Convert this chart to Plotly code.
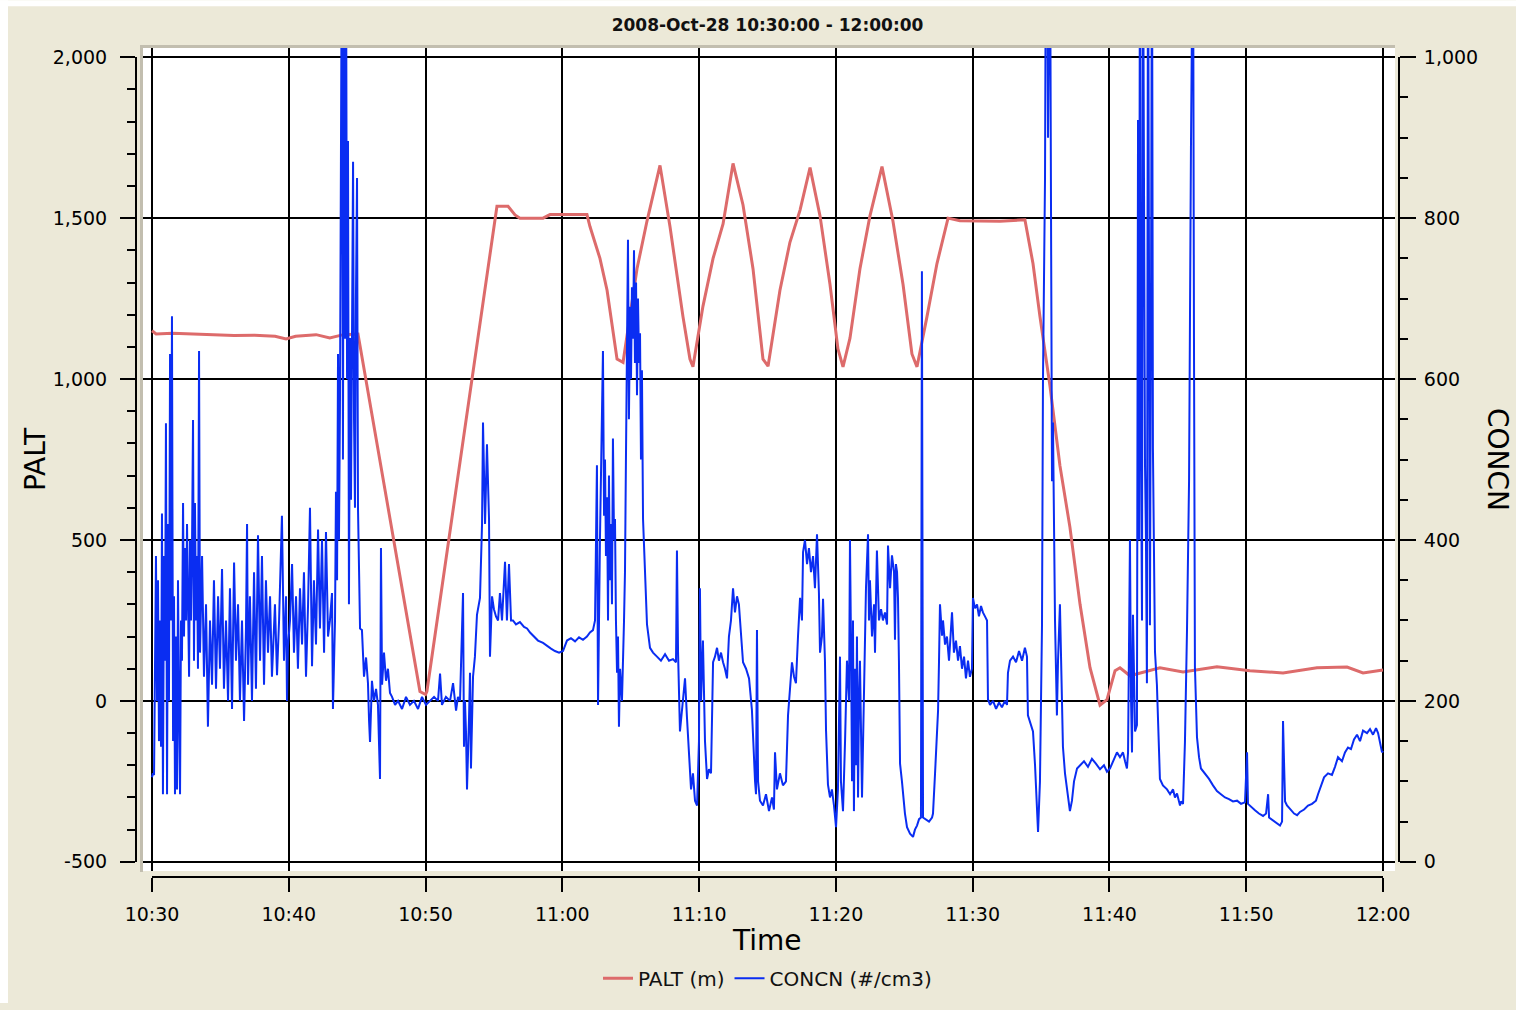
import pandas as pd
import plotly.graph_objects as go

START = "2008-10-28 10:30:00"
END = "2008-10-28 12:00:00"
TITLE = "2008-Oct-28 10:30:00 - 12:00:00"

# ---- PALT (m): minutes after 10:30 and altitude ----
palt_min = [0.00, 0.30, 1.50, 3.00, 4.50, 6.00, 7.50, 9.00, 9.80, 10.50,
            12.00, 13.00, 14.00, 15.06, 19.59, 20.00, 20.10, 25.22, 26.03, 26.54,
            26.90, 28.59, 29.10, 31.80, 32.02, 32.75, 33.27, 34.00, 34.44, 34.95,
            35.46, 36.19, 37.14, 37.87, 38.82, 39.33, 39.55, 40.28, 41.02, 41.75,
            42.48, 43.21, 43.94, 44.67, 45.04, 45.91, 46.64, 47.38, 48.11, 48.84,
            49.57, 50.15, 50.52, 51.03, 51.76, 52.49, 53.37, 54.17, 54.91, 55.56,
            55.93, 56.66, 57.39, 58.20, 59.07, 62.00, 63.82, 64.41, 64.92, 65.65,
            66.38, 67.11, 67.85, 68.58, 69.31, 69.82, 70.41, 70.77, 71.50, 73.69,
            75.38, 77.86, 80.27, 82.69, 85.17, 87.37, 88.54, 90.00]
palt_m = [1150, 1140, 1142, 1140, 1138, 1135, 1136, 1133, 1125, 1133,
          1138, 1128, 1138, 1140, 29, 20, 30, 1537, 1537, 1510,
          1500, 1500, 1511, 1511, 1474, 1375, 1276, 1062, 1052, 1194,
          1343, 1491, 1664, 1474, 1194, 1062, 1038, 1226, 1375, 1482,
          1670, 1541, 1343, 1062, 1040, 1276, 1425, 1525, 1657, 1507,
          1294, 1094, 1038, 1127, 1343, 1507, 1660, 1491, 1294, 1078,
          1038, 1194, 1359, 1500, 1492, 1490, 1495, 1359, 1194, 979,
          731, 540, 300, 103, -13, 4, 94, 103, 78, 103,
          90, 106, 94, 87, 103, 105, 87, 96]

# ---- CONCN (#/cm3): minutes after 10:30 and concentration ----
concn_min = [
    0.00, 0.07, 0.15, 0.22, 0.29, 0.37, 0.44, 0.51, 0.58, 0.66,
    0.73, 0.80, 0.88, 0.95, 1.02, 1.10, 1.17, 1.24, 1.32, 1.39,
    1.46, 1.54, 1.61, 1.68, 1.75, 1.83, 1.90, 1.97, 2.05, 2.12,
    2.19, 2.27, 2.34, 2.41, 2.49, 2.56, 2.63, 2.71, 2.78, 2.85,
    2.92, 3.00, 3.07, 3.14, 3.22, 3.29, 3.36, 3.44, 3.51, 3.66,
    3.80, 3.95, 4.09, 4.24, 4.39, 4.53, 4.68, 4.83, 4.97, 5.12,
    5.26, 5.41, 5.56, 5.70, 5.85, 6.00, 6.14, 6.29, 6.43, 6.58,
    6.73, 6.87, 6.95, 7.02, 7.16, 7.31, 7.46, 7.60, 7.75, 7.90,
    8.04, 8.19, 8.33, 8.48, 8.63, 8.77, 8.99, 9.14, 9.29, 9.50,
    9.65, 9.80, 9.87, 9.94, 10.09, 10.24, 10.38, 10.53, 10.67, 10.82,
    10.97, 11.11, 11.26, 11.41, 11.55, 11.70, 11.84, 11.99, 12.14, 12.28,
    12.43, 12.58, 12.72, 12.87, 13.01, 13.16, 13.23, 13.38, 13.45, 13.53,
    13.60, 13.67, 13.74, 13.82, 13.89, 13.96, 14.04, 14.11, 14.18, 14.26,
    14.33, 14.40, 14.48, 14.55, 14.62, 14.70, 14.77, 14.84, 14.91, 14.99,
    15.06, 15.13, 15.21, 15.35, 15.50, 15.65, 15.79, 15.87, 15.94, 16.08,
    16.23, 16.38, 16.52, 16.67, 16.74, 16.82, 16.96, 17.11, 17.25, 17.40,
    17.55, 17.77, 17.99, 18.28, 18.57, 18.86, 19.15, 19.45, 19.74, 20.03,
    20.32, 20.62, 20.91, 21.06, 21.20, 21.49, 21.79, 22.01, 22.23, 22.37,
    22.52, 22.74, 22.81, 22.88, 22.96, 23.03, 23.18, 23.25, 23.32, 23.47,
    23.61, 23.76, 23.98, 24.13, 24.20, 24.35, 24.49, 24.64, 24.71, 24.86,
    25.00, 25.15, 25.30, 25.44, 25.59, 25.81, 25.95, 26.10, 26.25, 26.39,
    26.61, 26.90, 27.20, 27.42, 27.64, 27.93, 28.22, 28.59, 28.88, 29.17,
    29.46, 29.76, 30.05, 30.34, 30.63, 30.93, 31.22, 31.51, 31.80, 32.02,
    32.24, 32.39, 32.53, 32.61, 32.75, 32.90, 32.97, 33.05, 33.12, 33.19,
    33.27, 33.34, 33.41, 33.48, 33.56, 33.63, 33.70, 33.78, 33.85, 33.92,
    34.00, 34.07, 34.14, 34.22, 34.36, 34.51, 34.58, 34.65, 34.73, 34.80,
    34.87, 34.95, 35.02, 35.09, 35.17, 35.24, 35.31, 35.39, 35.46, 35.53,
    35.61, 35.68, 35.75, 35.82, 35.90, 36.04, 36.19, 36.41, 36.63, 36.92,
    37.21, 37.51, 37.80, 38.09, 38.31, 38.38, 38.46, 38.60, 38.82, 38.97,
    39.11, 39.26, 39.41, 39.55, 39.70, 39.85, 39.99, 40.06, 40.14, 40.28,
    40.43, 40.58, 40.72, 40.87, 41.02, 41.16, 41.31, 41.45, 41.60, 41.75,
    41.89, 42.04, 42.18, 42.33, 42.48, 42.62, 42.77, 42.91, 43.06, 43.21,
    43.43, 43.65, 43.86, 44.01, 44.09, 44.16, 44.23, 44.31, 44.45, 44.67,
    44.89, 45.11, 45.33, 45.47, 45.55, 45.69, 45.91, 46.13, 46.35, 46.50,
    46.64, 46.79, 46.94, 47.08, 47.23, 47.38, 47.52, 47.60, 47.74, 47.89,
    48.03, 48.18, 48.33, 48.47, 48.62, 48.76, 48.84, 48.98, 49.06, 49.20,
    49.28, 49.42, 49.57, 49.71, 49.86, 50.01, 50.15, 50.30, 50.37, 50.52,
    50.67, 50.81, 50.96, 51.03, 51.11, 51.18, 51.25, 51.32, 51.40, 51.47,
    51.54, 51.62, 51.69, 51.76, 51.91, 52.05, 52.13, 52.20, 52.35, 52.42,
    52.49, 52.64, 52.79, 52.86, 53.00, 53.15, 53.30, 53.44, 53.59, 53.74,
    53.81, 53.96, 54.10, 54.25, 54.32, 54.39, 54.47, 54.54, 54.61, 54.69,
    54.83, 54.91, 55.05, 55.20, 55.42, 55.64, 55.78, 55.93, 56.08, 56.22,
    56.29, 56.37, 56.59, 56.81, 57.03, 57.10, 57.25, 57.39, 57.47, 57.54,
    57.61, 57.76, 57.83, 57.98, 58.12, 58.27, 58.42, 58.49, 58.63, 58.78,
    58.93, 59.07, 59.22, 59.37, 59.51, 59.66, 59.80, 59.95, 60.02, 60.17,
    60.32, 60.46, 60.61, 60.75, 60.90, 61.05, 61.12, 61.27, 61.49, 61.71,
    61.93, 62.14, 62.36, 62.51, 62.58, 62.73, 62.95, 63.17, 63.39, 63.61,
    63.82, 63.97, 64.04, 64.26, 64.41, 64.56, 64.70, 64.78, 64.92, 65.07,
    65.14, 65.22, 65.29, 65.36, 65.43, 65.51, 65.58, 65.65, 65.73, 65.80,
    65.87, 66.02, 66.16, 66.24, 66.38, 66.53, 66.60, 66.75, 66.89, 67.11,
    67.26, 67.41, 67.63, 67.85, 68.14, 68.43, 68.72, 69.01, 69.31, 69.60,
    69.82, 70.04, 70.26, 70.55, 70.77, 70.99, 71.14, 71.28, 71.36, 71.50,
    71.58, 71.65, 71.72, 71.87, 72.01, 72.09, 72.16, 72.23, 72.31, 72.38,
    72.45, 72.53, 72.60, 72.67, 72.74, 72.82, 72.89, 72.96, 73.04, 73.11,
    73.18, 73.26, 73.33, 73.47, 73.55, 73.69, 73.91, 74.21, 74.43, 74.65,
    74.79, 74.94, 75.16, 75.23, 75.38, 75.52, 75.67, 75.82, 75.96, 76.11,
    76.18, 76.25, 76.40, 76.55, 76.69, 76.98, 77.28, 77.57, 77.86, 78.15,
    78.45, 78.74, 79.03, 79.33, 79.62, 79.91, 80.06, 80.13, 80.35, 80.64,
    80.93, 81.23, 81.45, 81.60, 81.67, 81.89, 82.18, 82.47, 82.62, 82.69,
    82.77, 82.84, 82.98, 83.20, 83.50, 83.72, 83.93, 84.23, 84.52, 84.81,
    85.10, 85.25, 85.47, 85.69, 85.98, 86.27, 86.49, 86.71, 87.00, 87.22,
    87.44, 87.66, 87.88, 88.10, 88.32, 88.54, 88.83, 89.05, 89.27, 89.49,
    89.64, 89.78, 89.93, 90.00]
concn_val = [
    105, 110, 108, 300, 380, 200, 350, 150, 300, 143,
    433, 84, 380, 250, 545, 84, 420, 200, 631, 300,
    678, 150, 330, 84, 280, 90, 350, 200, 84, 300,
    250, 446, 280, 390, 300, 420, 350, 230, 400, 300,
    380, 549, 250, 446, 300, 380, 240, 635, 260, 380,
    230, 320, 168, 300, 220, 350, 215, 330, 240, 364,
    215, 300, 200, 340, 190, 372, 250, 320, 200, 300,
    175, 290, 420, 220, 330, 200, 360, 215, 406, 250,
    380, 220, 350, 260, 330, 230, 320, 232, 300, 430,
    250, 330, 200, 268, 300, 370, 260, 330, 240, 340,
    270, 360, 230, 320, 440, 243, 350, 270, 413, 290,
    400, 260, 410, 280, 300, 334, 190, 300, 460, 350,
    631, 400, 560, 750, 1200, 500, 1200, 650, 1200, 600,
    896, 320, 651, 450, 700, 870, 550, 440, 700, 850,
    440, 350, 290, 288, 230, 254, 222, 175, 149, 225,
    200, 215, 195, 103, 390, 220, 260, 225, 240, 210,
    205, 195, 200, 190, 205, 195, 200, 190, 205, 195,
    200, 205, 200, 234, 195, 205, 200, 222, 188, 205,
    200, 334, 143, 200, 160, 90, 180, 235, 116, 230,
    255, 307, 328, 420, 546, 420, 519, 426, 255, 330,
    314, 305, 300, 334, 300, 373, 300, 370, 300, 300,
    295, 298, 292, 290, 285, 280, 275, 272, 268, 265,
    262, 260, 262, 275, 278, 274, 279, 276, 280, 285,
    288, 300, 493, 195, 400, 572, 635, 430, 500, 380,
    453, 300, 480, 350, 420, 320, 526, 400, 426, 300,
    235, 280, 168, 240, 200, 300, 360, 500, 650, 773,
    550, 690, 600, 714, 650, 760, 620, 720, 580, 700,
    620, 657, 500, 611, 426, 350, 295, 266, 260, 255,
    250, 258, 250, 252, 248, 387, 260, 162, 200, 228,
    180, 125, 90, 110, 76, 70, 150, 340, 200, 275,
    150, 103, 115, 110, 248, 255, 266, 250, 260, 248,
    240, 228, 280, 300, 340, 310, 330, 320, 280, 248,
    240, 228, 189, 116, 100, 84, 288, 100, 76, 70,
    84, 63, 80, 65, 136, 90, 110, 95, 100, 182,
    220, 248, 230, 222, 280, 328, 300, 385, 400, 370,
    390, 360, 380, 340, 407, 334, 260, 280, 327, 250,
    163, 96, 80, 90, 70, 43, 90, 255, 100, 63,
    150, 250, 200, 400, 262, 100, 300, 63, 240, 120,
    280, 80, 200, 250, 80, 200, 265, 340, 407, 300,
    350, 280, 320, 260, 387, 300, 314, 300, 310, 295,
    393, 340, 381, 360, 276, 370, 360, 328, 250, 122,
    100, 83, 60, 43, 35, 31, 40, 45, 53, 55,
    734, 55, 52, 50, 55, 60, 110, 160, 188, 250,
    320, 281, 300, 270, 280, 250, 295, 310, 260, 275,
    250, 268, 240, 255, 228, 250, 230, 240, 328, 315,
    320, 305, 318, 310, 305, 300, 202, 195, 200, 190,
    198, 192, 200, 195, 235, 250, 255, 248, 262, 250,
    266, 255, 182, 170, 162, 120, 70, 37, 100, 295,
    598, 700, 850, 1200, 1200, 900, 1200, 1200, 800, 473,
    546, 300, 182, 250, 320, 200, 143, 110, 90, 63,
    76, 100, 116, 120, 125, 118, 128, 122, 115, 120,
    112, 116, 125, 136, 130, 136, 125, 116, 136, 400,
    200, 136, 307, 162, 170, 922, 400, 1200, 500, 300,
    1200, 700, 493, 400, 222, 1200, 500, 294, 700, 1200,
    512, 400, 261, 220, 175, 103, 95, 90, 84, 90,
    80, 85, 70, 75, 72, 149, 288, 473, 889, 1200,
    651, 242, 155, 130, 116, 110, 103, 95, 88, 84,
    80, 78, 75, 76, 72, 74, 136, 72, 68, 64,
    60, 57, 60, 84, 55, 52, 48, 45, 50, 175,
    120, 75, 70, 66, 60, 58, 62, 65, 70, 72,
    76, 84, 95, 105, 110, 108, 118, 130, 125, 136,
    142, 140, 152, 158, 150, 163, 160, 165, 158, 166,
    160, 150, 136, 138]

palt_ticks = [-500, 0, 500, 1000, 1500, 2000]
palt_tick_text = ["-500", "0", "500", "1,000", "1,500", "2,000"]
concn_ticks = [0, 200, 400, 600, 800, 1000]
concn_tick_text = ["0", "200", "400", "600", "800", "1,000"]

# ---------------------------------------------------------------------------
t0 = pd.Timestamp(START)
t1 = pd.Timestamp(END)
palt_time = [t0 + pd.Timedelta(minutes=m) for m in palt_min]
concn_time = [t0 + pd.Timedelta(minutes=m) for m in concn_min]

W, H = 1516, 1010
ML, MR, MT, MB = 136, 117, 48, 127
PW, PH = W - ML - MR, H - MT - MB


def fx(p):  # pixel x -> paper fraction
    return (p - ML) / PW


def fy(p):  # pixel y -> paper fraction
    return (H - MB - p) / PH


BEIGE = "#ECE9D8"
RED = "#DD6B6B"
BLUE = "#0A2DF2"
FONT = "DejaVu Sans"

fig = go.Figure()
fig.add_trace(go.Scatter(x=palt_time, y=palt_m, name="PALT (m)", mode="lines",
                         line=dict(color=RED, width=3), xaxis="x", yaxis="y"))
fig.add_trace(go.Scatter(x=concn_time, y=concn_val, name="CONCN (#/cm3)", mode="lines",
                         line=dict(color=BLUE, width=2), xaxis="x", yaxis="y2"))
# empty helper traces so that the outer tick axes get drawn
fig.add_trace(go.Scatter(x=[], y=[], xaxis="x2", yaxis="y3", showlegend=False, hoverinfo="skip"))
fig.add_trace(go.Scatter(x=[], y=[], xaxis="x2", yaxis="y4", showlegend=False, hoverinfo="skip"))

# pixel-based range padding of the white plotting area
sec_per_px = 5400 / 1231
pad_l = pd.Timedelta(seconds=9 * sec_per_px)
pad_r = pd.Timedelta(seconds=12 * sec_per_px)
u_per_px = 2500 / 810.4
u2_per_px = 1000 / 810.4

tick_font = dict(family=FONT, size=19, color="#000")
axis_common = dict(showline=True, linecolor="#000", linewidth=2, ticks="outside",
                   tickwidth=2, tickcolor="#000", showgrid=False, zeroline=False,
                   tickfont=tick_font)

fig.update_layout(
    width=W, height=H,
    margin=dict(l=ML, r=MR, t=MT, b=MB, pad=0),
    paper_bgcolor=BEIGE,
    plot_bgcolor="rgba(0,0,0,0)",
    font=dict(family=FONT, color="#000"),
    title=dict(text="<b>" + TITLE + "</b>", x=0.5, xref="paper", xanchor="center",
               y=1 - 25 / H, yref="container", yanchor="middle",
               font=dict(family=FONT, size=17, color="#111")),
    showlegend=True,
    legend=dict(orientation="h", x=0.5, xanchor="center", y=fy(985), yanchor="middle",
                bgcolor="rgba(0,0,0,0)", font=dict(family=FONT, size=20, color="#111"),
                itemwidth=30, traceorder="normal"),
    xaxis=dict(domain=[fx(143), fx(1395)], type="date",
               range=[t0 - pad_l, t1 + pad_r], tick0=t0, dtick=600000,
               showgrid=True, gridcolor="#000", gridwidth=2,
               showticklabels=False, ticks="", zeroline=False, showline=False,
               anchor="y"),
    yaxis=dict(domain=[fy(877), 1.0],
               range=[-500 - 9.3 * u_per_px, 2000 + 9.3 * u_per_px],
               tickvals=palt_ticks, showgrid=True, gridcolor="#000", gridwidth=2,
               showticklabels=False, ticks="", zeroline=False, showline=False,
               anchor="x"),
    yaxis2=dict(overlaying="y", anchor="x",
                range=[0 - 9.3 * u2_per_px, 1000 + 9.3 * u2_per_px],
                visible=False),
    xaxis2=dict(domain=[fx(152), fx(1383)], type="date", range=[t0, t1],
                anchor="free", position=0, tick0=t0, dtick=600000,
                tickformat="%H:%M", ticklen=14, ticklabelstandoff=6, **axis_common),
    yaxis3=dict(domain=[fy(867.7), fy(57.3)], range=[-500, 2000],
                anchor="free", position=0, side="left", tickvals=palt_ticks,
                ticktext=palt_tick_text, ticklen=15, ticklabelstandoff=9,
                minor=dict(dtick=100, tick0=0, ticks="outside", ticklen=8,
                           tickwidth=2, tickcolor="#000", showgrid=False),
                **axis_common),
    yaxis4=dict(domain=[fy(867.7), fy(57.3)], range=[0, 1000],
                anchor="free", position=1, side="right", overlaying="y3",
                tickvals=concn_ticks, ticktext=concn_tick_text, ticklen=16,
                ticklabelstandoff=4,
                minor=dict(dtick=50, tick0=0, ticks="outside", ticklen=8,
                           tickwidth=2, tickcolor="#000", showgrid=False),
                **axis_common),
)

shapes = [
    # white plotting area
    dict(type="rect", xref="paper", yref="paper", x0=fx(143), x1=fx(1395),
         y0=fy(877), y1=fy(48), fillcolor="#FFFFFF", line=dict(width=0), layer="below"),
    # sunken border (left & top)
    dict(type="line", xref="paper", yref="paper", x0=fx(141.5), x1=fx(141.5),
         y0=fy(46), y1=fy(878), line=dict(color="#C2BEAF", width=3), layer="below"),
    dict(type="line", xref="paper", yref="paper", x0=fx(140), x1=fx(1395),
         y0=fy(46.5), y1=fy(46.5), line=dict(color="#C2BEAF", width=3), layer="below"),
    # thin white frame at the top and left edges of the picture
    dict(type="rect", xref="paper", yref="paper", x0=fx(0), x1=fx(W),
         y0=fy(0), y1=fy(6), fillcolor="#FFFFFF", line=dict(width=0), layer="below"),
    dict(type="rect", xref="paper", yref="paper", x0=fx(0), x1=fx(8),
         y0=fy(0), y1=fy(H), fillcolor="#FFFFFF", line=dict(width=0), layer="below"),
]
fig.update_layout(shapes=shapes)

fig.update_layout(annotations=[
    dict(text="Time", xref="paper", yref="paper", x=fx(767), y=fy(947),
         xanchor="center", yanchor="middle", showarrow=False,
         font=dict(family=FONT, size=28, color="#000")),
    dict(text="PALT", xref="paper", yref="paper", x=fx(35), y=fy(462),
         xanchor="center", yanchor="middle", showarrow=False, textangle=-90,
         font=dict(family=FONT, size=28, color="#000")),
    dict(text="CONCN", xref="paper", yref="paper", x=fx(1498), y=fy(462),
         xanchor="center", yanchor="middle", showarrow=False, textangle=90,
         font=dict(family=FONT, size=28, color="#000")),
])

fig.write_html("out.html")
